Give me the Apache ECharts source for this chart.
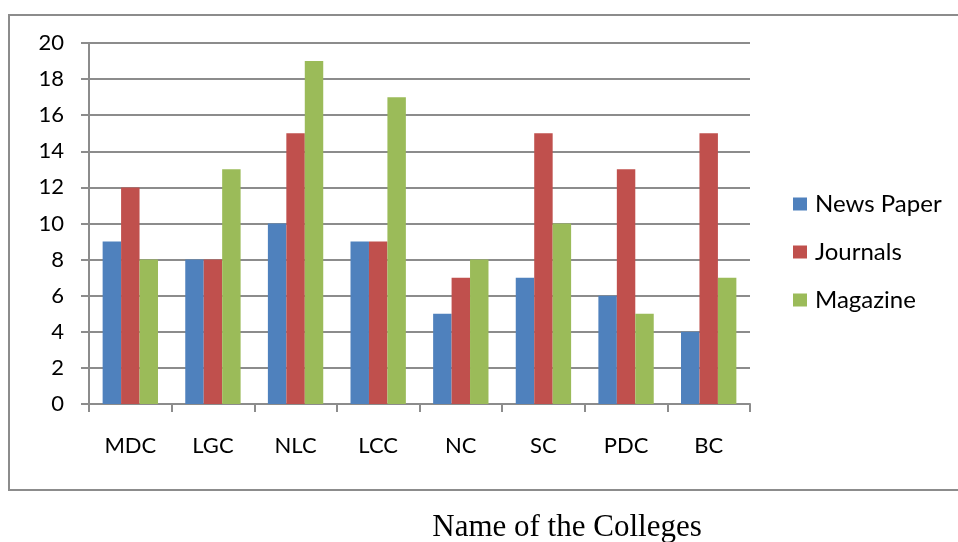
<!DOCTYPE html>
<html>
<head>
<meta charset="utf-8">
<script src="https://cdn.jsdelivr.net/npm/echarts@6/dist/echarts.min.js"></script>
<style>
  html, body { margin: 0; padding: 0; background: #fff; }
  #main { width: 958px; height: 542px; }
</style>
</head>
<body>
<div id="main"></div>
<script>
    var myChart = echarts.init(document.getElementById('main'));

    // 数据
    var colleges = ['MDC', 'LGC', 'NLC', 'LCC', 'NC', 'SC', 'PDC', 'BC'];
    var newsPaper = [9, 8, 10, 9, 5, 7, 6, 4];
    var journals = [12, 8, 15, 9, 7, 15, 13, 15];
    var magazine = [8, 13, 19, 17, 8, 10, 5, 7];
    var yTicks = [0, 2, 4, 6, 8, 10, 12, 14, 16, 18, 20];

    var labelFont = 'Lato, "Open Sans", sans-serif';

    var option = {
        animation: false,
        backgroundColor: '#fff',
        graphic: [
            {
                type: 'rect',
                shape: { x: 9, y: 15, width: 960, height: 475 },
                style: { fill: 'none', stroke: '#8c8c8c', lineWidth: 2 }
            },
            {
                type: 'text',
                x: 567, y: 528,
                style: {
                    text: 'Name of the Colleges',
                    font: '31px "Liberation Serif", "Times New Roman", serif',
                    fill: '#000',
                    align: 'center',
                    verticalAlign: 'middle'
                }
            }
        ],
        grid: { left: 89, right: 208, top: 43, bottom: 138 },
        legend: {
            orient: 'vertical',
            left: 793,
            top: 192,
            padding: 0,
            itemWidth: 14,
            itemHeight: 13,
            itemGap: 24,
            icon: 'rect',
            textStyle: { color: '#000', fontSize: 24, fontFamily: labelFont, padding: [0, 0, 0, 3] },
            data: ['News Paper', 'Journals', 'Magazine']
        },
        xAxis: {
            type: 'category',
            data: colleges,
            axisLine: { lineStyle: { color: '#8c8c8c', width: 2 } },
            axisTick: { show: true, length: 8, lineStyle: { color: '#8c8c8c', width: 2 } },
            axisLabel: { color: '#000', fontSize: 22, fontFamily: labelFont, margin: 31 }
        },
        yAxis: {
            type: 'value',
            min: 0, max: 20, interval: 2,
            axisLine: { show: true, lineStyle: { color: '#8c8c8c', width: 2 } },
            axisTick: { show: true, length: 8, lineStyle: { color: '#8c8c8c', width: 2 } },
            splitLine: { lineStyle: { color: '#8c8c8c', width: 2 } },
            axisLabel: {
                color: '#000', fontSize: 22, fontFamily: labelFont, margin: 25,
                formatter: function (v) { return yTicks.indexOf(v) >= 0 ? String(v) : ''; }
            }
        },
        series: [
            { name: 'News Paper', type: 'bar', data: newsPaper, barGap: '0%', barCategoryGap: '33%', itemStyle: { color: '#4f81bd' } },
            { name: 'Journals', type: 'bar', data: journals, barGap: '0%', barCategoryGap: '33%', itemStyle: { color: '#c0504d' } },
            { name: 'Magazine', type: 'bar', data: magazine, barGap: '0%', barCategoryGap: '33%', itemStyle: { color: '#9bbb59' } }
        ]
    };

    myChart.setOption(option);
</script>
</body>
</html>
